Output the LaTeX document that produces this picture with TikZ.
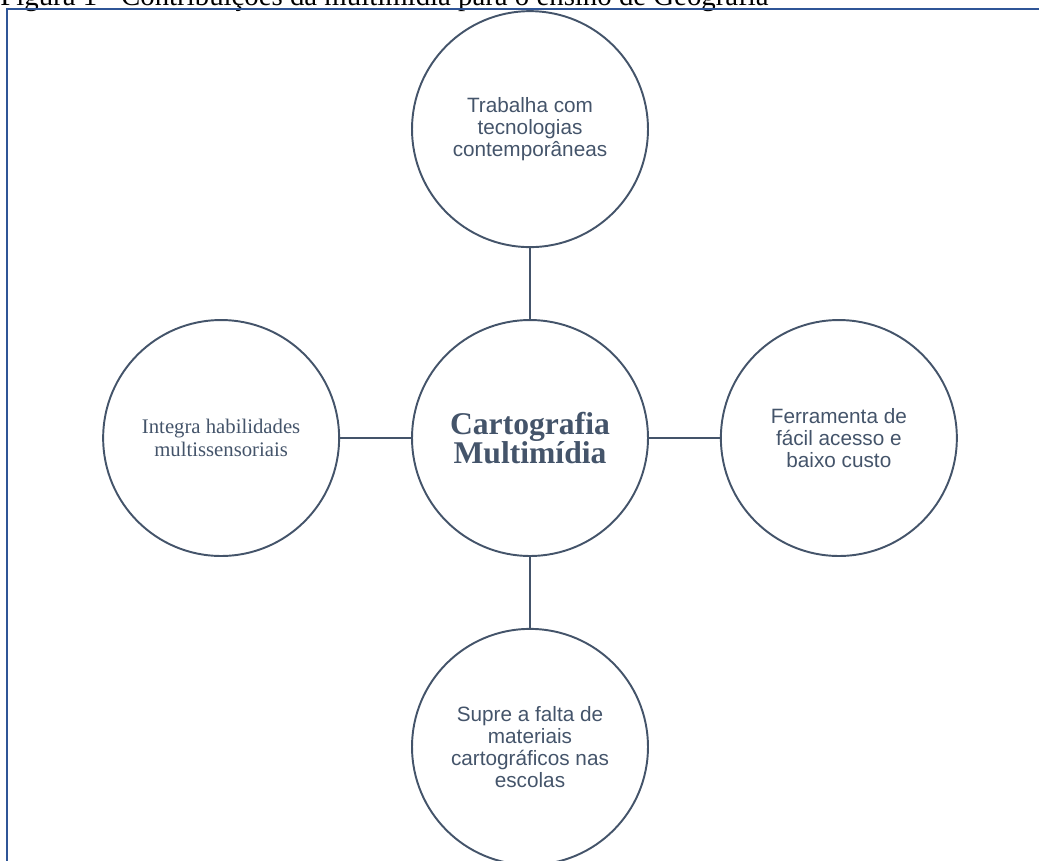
\documentclass[tikz,border=0pt]{standalone}
\usepackage{fontspec}
\setmainfont{Liberation Serif}
\setsansfont{Liberation Sans}
\usetikzlibrary{positioning}
\definecolor{slate}{RGB}{68,84,106}
\definecolor{frameblue}{RGB}{47,85,151}
\tikzset{
	bubble/.style={circle, draw=slate, line width=1.1pt, minimum size=4.72cm, inner sep=0pt, text=slate, align=center},
	sanstext/.style={font=\sffamily\fontsize{11.8}{12.6}\selectfont},
	link/.style={draw=slate, line width=1.1pt},
}

\begin{document}
\begin{tikzpicture}[x=0.02cm, y=-0.02cm, node distance=1.42cm]
		%%%%% START %%%%%
		
		\useasboundingbox (0, 0) rectangle (1039, 860);
		\clip (0, 0) rectangle (1039, 860);
		
		\node[anchor=base west, inner sep=0pt, font=\fontsize{16.4}{18}\selectfont] (title) at (0, 5.5) {Figura 1 - Contribuições da multimídia para o ensino de Geografia};
		\draw[frameblue, line width=1.2pt] (7, 900) -- (7, 9) -- (1060, 9);
		
		\node[bubble, font=\bfseries\fontsize{18}{17}\selectfont] (carto) at (530, 438) {Cartografia\\Multimídia};
		
		\node[bubble, sanstext, above=of carto] (contemp) {Trabalha com\\tecnologias\\contemporâneas};
		\node[bubble, sanstext, right=of carto] (acesso) {Ferramenta de\\fácil acesso e\\baixo custo};
		\node[bubble, sanstext, below=of carto] (escolas) {Supre a falta de\\materiais\\cartográficos nas\\escolas};
		\node[bubble, font=\fontsize{11.8}{12.7}\selectfont, left=of carto] (sentidos) {Integra habilidades\\multissensoriais};
		
		\draw[link] (contemp) -- (carto);
		\draw[link] (acesso) -- (carto);
		\draw[link] (escolas) -- (carto);
		\draw[link] (sentidos) -- (carto);
		
		%%%%% END %%%%%
	\end{tikzpicture}
\end{document}
